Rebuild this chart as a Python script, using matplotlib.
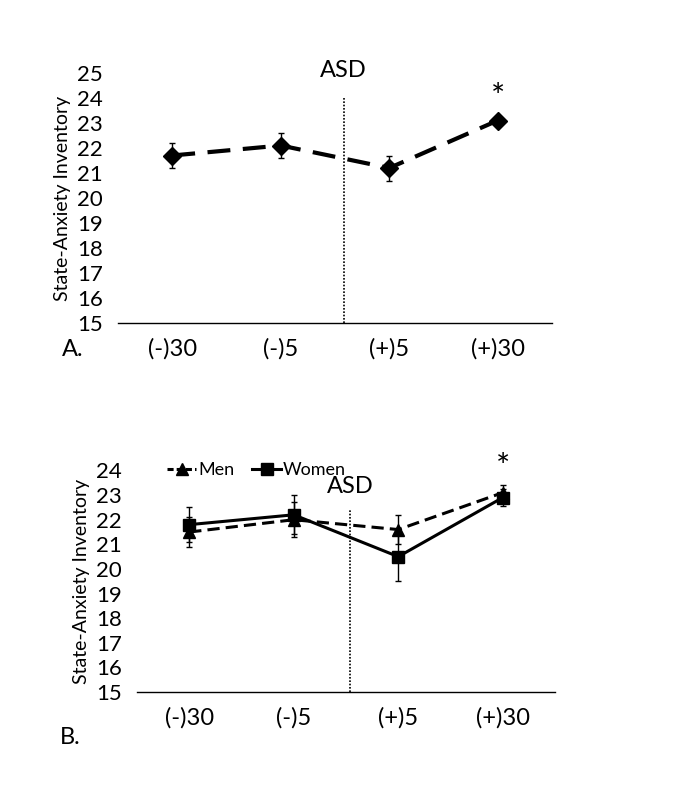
import numpy as np
import matplotlib.pyplot as plt
from matplotlib.lines import Line2D

plt.rcParams['font.family'] = ['Lato', 'DejaVu Sans']

# дані
categories = ['(-)30', '(-)5', '(+)5', '(+)30']
all_mean = [21.7, 22.1, 21.2, 23.1]
all_err = [0.5, 0.5, 0.5, 0.1]
men_mean = [21.5, 22.0, 21.6, 23.1]
men_err = [0.6, 0.7, 0.6, 0.3]
women_mean = [21.8, 22.2, 20.5, 22.9]
women_err = [0.7, 0.8, 1.0, 0.35]

x = np.arange(len(categories))
W, H = 680, 798
fig = plt.figure(figsize=(W / 100, H / 100), dpi=100)


def setup_axes(ax, ymax):
    ax.set_xlim(-0.5, len(categories) - 0.5)
    ax.set_ylim(15, ymax)
    ax.set_yticks(range(15, ymax + 1))
    ax.set_xticks(x)
    ax.set_xticklabels(categories, fontsize=17)
    ax.tick_params(axis='y', length=0, pad=11, labelsize=16)
    ax.tick_params(axis='x', length=0, pad=11)
    for s in ['top', 'right', 'left']:
        ax.spines[s].set_visible(False)
    ax.spines['bottom'].set_linewidth(1.0)
    ax.set_ylabel('State-Anxiety Inventory', fontsize=14, labelpad=4)


# панель A
axA = fig.add_axes([118 / W, 1 - 323 / H, (552 - 118) / W, 250 / H])
setup_axes(axA, 25)
axA.errorbar(x, all_mean, yerr=all_err, color='black', lw=3.0, dashes=(5.5, 3),
             marker='D', ms=9, ecolor='black', elinewidth=1, capsize=2.5, capthick=1)
axA.plot([1.58, 1.58], [15, 24], color='black', lw=1.2, ls=(0, (1, 1)))
axA.text(1.58, 25.1, 'ASD', ha='center', va='center', fontsize=17)
axA.text(3, 24.0, '*', ha='center', va='center', fontsize=24)
fig.text(62 / W, 1 - 350 / H, 'A.', fontsize=17, ha='left', va='center')

# панель B
axB = fig.add_axes([137 / W, 1 - 692 / H, (555 - 137) / W, 221.5 / H])
setup_axes(axB, 24)
axB.errorbar(x, men_mean, yerr=men_err, color='black', lw=2.2, dashes=(4, 2),
             marker='^', ms=8, ecolor='black', elinewidth=1, capsize=2.5, capthick=1)
axB.errorbar(x, women_mean, yerr=women_err, color='black', lw=2.2,
             marker='s', ms=8, ecolor='black', elinewidth=1, capsize=2.5, capthick=1)
axB.plot([1.54, 1.54], [15, 22.4], color='black', lw=1.2, ls=(0, (1, 1)))
axB.text(1.54, 23.35, 'ASD', ha='center', va='center', fontsize=17)
axB.text(3, 24.1, '*', ha='center', va='center', fontsize=24)
handles = [Line2D([], [], color='black', lw=2.2, dashes=(2, 1), marker='^', ms=8),
           Line2D([], [], color='black', lw=2.2, marker='s', ms=8)]
axB.legend(handles, ['Men', 'Women'], loc='center left', bbox_to_anchor=(0.055, 1.0),
           ncol=2, frameon=False, fontsize=13, handlelength=1.6, handletextpad=0.1,
           columnspacing=1.0, borderaxespad=0)
fig.text(60 / W, 1 - 737 / H, 'B.', fontsize=17, ha='left', va='center')

fig.savefig('out.png', dpi=100)
